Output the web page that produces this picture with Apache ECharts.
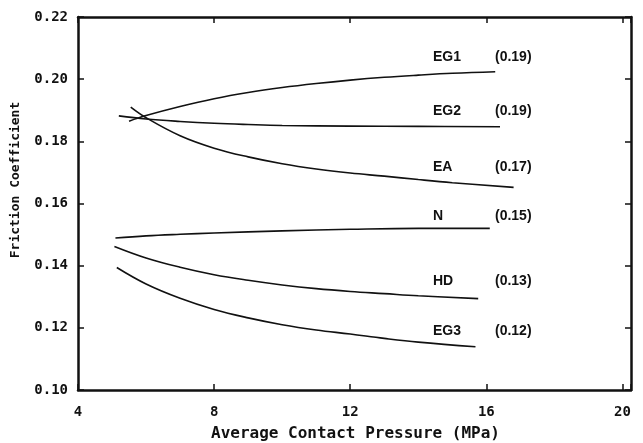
<!DOCTYPE html>
<html>
<head>
<meta charset="utf-8">
<script src="https://cdn.jsdelivr.net/npm/echarts@6/dist/echarts.min.js"></script>
<style>html,body{margin:0;padding:0;background:#fff;}#c{width:643px;height:443px;}</style>
</head>
<body>
<div id="c"></div>
<script>
const xTicks = [4, 8, 12, 16, 20];
const yTicks = [0.10, 0.12, 0.14, 0.16, 0.18, 0.20, 0.22];
const seriesNames = ['EG1', 'EG2', 'EA', 'N', 'HD', 'EG3'];
const seriesValues = ['(0.19)', '(0.19)', '(0.17)', '(0.15)', '(0.13)', '(0.12)'];
const EG1 = [[5.5,0.1865],[6,0.1883],[7,0.1912],[8,0.1937],[9,0.1957],[10,0.1973],[11,0.1986],[12,0.1997],[13,0.2006],[14,0.2013],[15,0.2019],[16.26,0.2024]];
const EG2 = [[5.2,0.1882],[6,0.1872],[7,0.1864],[8,0.1858],[9,0.1854],[10,0.1851],[12,0.1849],[14,0.1848],[16.4,0.1847]];
const EA = [[5.55,0.1910],[6,0.1876],[7,0.1818],[8,0.1778],[9,0.1750],[10,0.1728],[11,0.1711],[12,0.1698],[13,0.1688],[14,0.1677],[15,0.1667],[16.8,0.1652]];
const N = [[5.1,0.1489],[6,0.1496],[7,0.1501],[8,0.1505],[10,0.1512],[12,0.1517],[14,0.1520],[16.1,0.1520]];
const HD = [[5.07,0.1462],[6,0.1425],[7,0.1395],[8,0.1371],[9,0.1353],[10,0.1338],[11,0.1326],[12,0.1317],[13,0.1310],[14,0.1303],[15.76,0.1294]];
const EG3 = [[5.14,0.1394],[6,0.1341],[7,0.1295],[8,0.1259],[9,0.1232],[10,0.1210],[11,0.1193],[12,0.1180],[13,0.1166],[14,0.1154],[15.68,0.1139]];
const curves = [EG1, EG2, EA, N, HD, EG3];
const labelY = [58, 112, 168, 217, 282, 332];

const chart = echarts.init(document.getElementById('c'));
const ink = '#111';
const tickFont = {fontFamily: 'DejaVu Sans Mono', fontWeight: 'bold', fontSize: 14, color: ink};
function axisCommon(extra) {
  return Object.assign({
    type: 'value',
    axisLine: {show: true, lineStyle: {color: ink, width: 2.5}},
    axisTick: {show: true, inside: true, length: 6, lineStyle: {color: ink, width: 1.5}},
    splitLine: {show: false}
  }, extra);
}
const fmtX = v => xTicks.includes(v) ? String(v) : '';
const fmtY = v => yTicks.some(t => Math.abs(t - v) < 1e-9) ? v.toFixed(2) : '';

const graphics = [];
seriesNames.forEach((n, i) => {
  graphics.push({type: 'text', left: 433, top: labelY[i] - 8,
    style: {text: n, font: 'bold 14px "Liberation Sans", Arial', fill: ink}});
  graphics.push({type: 'text', left: 495, top: labelY[i] - 8,
    style: {text: seriesValues[i], font: 'bold 14px "Liberation Sans", Arial', fill: ink}});
});
graphics.push({type: 'text', left: 211, top: 426,
  style: {text: 'Average Contact Pressure (MPa)', font: 'bold 16px "DejaVu Sans Mono"', fill: ink}});
graphics.push({type: 'text', x: 16, y: 180, rotation: Math.PI/2, originX: 0, originY: 0,
  style: {text: 'Friction Coefficient', font: 'bold 13px "DejaVu Sans Mono"', fill: ink, align: 'center', verticalAlign: 'middle'}});

chart.setOption({
  animation: false,
  backgroundColor: '#fff',
  grid: {left: 78, right: 12, top: 17, bottom: 53, containLabel: false},
  xAxis: [
    axisCommon({position: 'bottom', min: 4, max: 20.25, interval: 4,
      axisLabel: Object.assign({formatter: fmtX, margin: 15, showMaxLabel: true}, tickFont)}),
    axisCommon({position: 'top', min: 4, max: 20.25, interval: 4, axisLabel: {show: false}})
  ],
  yAxis: [
    axisCommon({position: 'left', min: 0.10, max: 0.22, interval: 0.02,
      axisLabel: Object.assign({formatter: fmtY, margin: 10}, tickFont)}),
    axisCommon({position: 'right', min: 0.10, max: 0.22, interval: 0.02, axisLabel: {show: false}})
  ],
  series: curves.map((d, i) => ({
    name: seriesNames[i], type: 'line', data: d, smooth: 0.4, showSymbol: false,
    lineStyle: {color: ink, width: 1.6}, xAxisIndex: 0, yAxisIndex: 0
  })),
  graphic: graphics
});
</script>
</body>
</html>
